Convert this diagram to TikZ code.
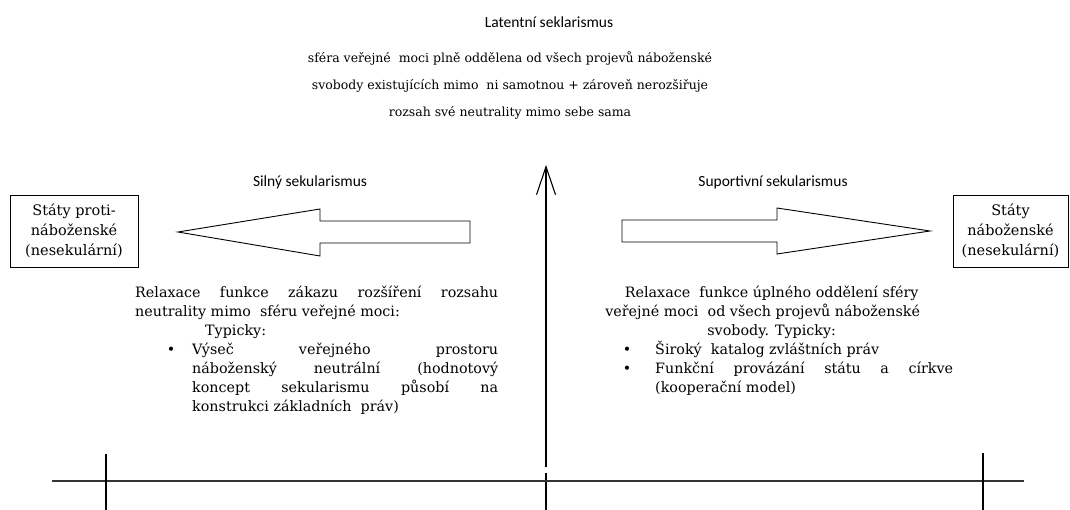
\documentclass[tikz,border=0pt]{standalone}
\usepackage{fontspec}
\setmainfont{DejaVu Serif}
\newfontfamily\boxfont{DejaVu Serif}
\newfontfamily\headfont{Carlito}
\usetikzlibrary{arrows.meta}
\begin{document}
\begin{tikzpicture}[x=1pt,y=-1pt,
  headlbl/.style={font=\headfont\fontsize{15.5}{18}\selectfont, inner sep=0pt},
  toptext/.style={font=\fontsize{12.5}{27}\selectfont, align=center, inner sep=0pt},
  statebox/.style={draw, line width=0.9pt, align=center, minimum width=128pt, minimum height=72pt,
    font=\boxfont\fontsize{14.5}{20}\selectfont, inner sep=0pt},
  blockarrow/.style={draw, line width=0.9pt, line join=miter},
  bodytext/.style={inner sep=0pt, align=justify, font=\fontsize{14.3}{19}\selectfont},
  axisline/.style={line width=2pt, draw=black!80},
  tickline/.style={line width=1.1pt},
  vline/.style={line width=1.1pt},
]
\useasboundingbox (0,0) rectangle (1070,510);

% headings
\node[headlbl] (latent) at (549,22) {Latentní seklarismus};
\node[toptext] (latdesc) at (510,85) {sféra veřejné~ moci plně oddělena od všech projevů náboženské\\
svobody existujících mimo~ ni samotnou + zároveň nerozšiřuje\\
rozsah své neutrality mimo sebe sama};
\node[headlbl] (silny) at (310,182) {Silný sekularismus};
\node[headlbl] (suport) at (773,182) {Suportivní sekularismus};

% state boxes
\node[statebox] (antirel) at (74,231) {Státy proti-\\náboženské\\(nesekulární)};
\node[statebox, minimum width=115pt] (rel) at (1010.5,231) {Státy\\náboženské\\(nesekulární)};

% block arrows
\draw[blockarrow] (178,232) -- (320,209) -- (320,221) -- (470,221) -- (470,243) -- (320,243) -- (320,256) -- cycle;
\draw[blockarrow] (622,220) -- (777,220) -- (777,208) -- (930,231) -- (777,254) -- (777,242) -- (622,242) -- cycle;

% vertical axis
\coordinate (vtop) at (546,165);
\coordinate (vbase) at (546,467);
\coordinate (vlow1) at (546,473);
\coordinate (vlow2) at (546,510);
\draw[vline, -{Straight Barb[length=28pt,width=19pt,line width=1.1pt]}] (vbase) -- (vtop);
\draw[vline] (vlow1) -- (vlow2);

% horizontal axis and ticks
\coordinate (axL) at (52,481);
\coordinate (axR) at (1024,481);
\draw[axisline] (axL) -- (axR);
\coordinate (tLt) at (106,454);
\coordinate (tLb) at (106,510);
\coordinate (tRt) at (983,453);
\coordinate (tRb) at (983,510);
\draw[tickline] (tLt) -- (tLb);
\draw[tickline] (tRt) -- (tRb);

% left text block
\node[bodytext, text width=363pt, anchor=north west] (lefttext) at (135,286) {%
Relaxace funkce zákazu rozšíření rozsahu\linebreak
neutrality mimo~ sféru veřejné moci:\par
\hspace*{70pt}Typicky:\par
\leftskip=57pt
\leavevmode\llap{\textbullet\hspace{17pt}}Výseč veřejného prostoru\linebreak
náboženský neutrální (hodnotový\linebreak
koncept sekularismu působí na\linebreak
konstrukci základních~ práv)\par};

% right text block
\node[bodytext, text width=351pt, anchor=north west] (righttext) at (602,286) {%
{\leftskip=0pt plus 1fil \rightskip=12pt plus 1fil \parfillskip=0pt
Relaxace~ funkce úplného oddělení sféry\par
\rightskip=30pt plus 1fil
veřejné moci~ od všech projevů náboženské\par
\rightskip=12pt plus 1fil
svobody. Typicky:\par}
\leftskip=53pt
\leavevmode\llap{\textbullet\hspace{24pt}}Široký~ katalog zvláštních práv\par
\leavevmode\llap{\textbullet\hspace{24pt}}Funkční provázání státu a církve\linebreak
(kooperační model)\par};
\end{tikzpicture}
\end{document}
